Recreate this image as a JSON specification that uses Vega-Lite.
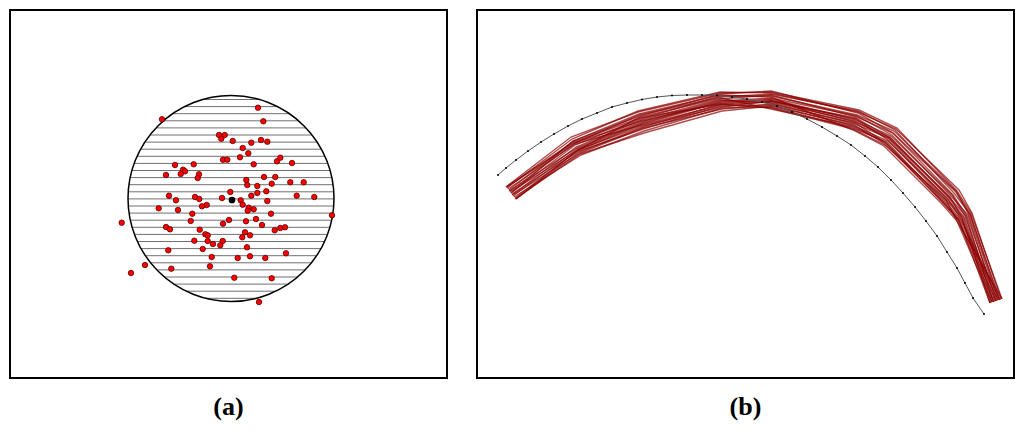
{
"$schema": "https://vega.github.io/schema/vega-lite/v6.json",
"background": "white",
"padding": {"left": 9, "top": 9, "right": 0, "bottom": 0},
"spacing": 28,
"config": {"view": {"stroke": "black", "strokeWidth": 2}},
"datasets": {
"hatch": [
{"y":98.5,"x1":201.6,"x2":258.4},{"y":105.6,"x1":183.5,"x2":276.5},{"y":112.7,"x1":171.5,"x2":288.5},{"y":119.8,"x1":162.4,"x2":297.6},{"y":126.9,"x1":155.0,"x2":305.0},{"y":134.0,"x1":148.9,"x2":311.1},{"y":141.1,"x1":143.8,"x2":316.2},{"y":148.2,"x1":139.6,"x2":320.4},{"y":155.3,"x1":136.0,"x2":324.0},{"y":162.4,"x1":133.2,"x2":326.8},{"y":169.5,"x1":130.9,"x2":329.1},{"y":176.6,"x1":129.1,"x2":330.9},{"y":183.7,"x1":127.9,"x2":332.1},{"y":190.8,"x1":127.2,"x2":332.8},{"y":197.9,"x1":127.0,"x2":333.0},{"y":205.0,"x1":127.3,"x2":332.7},{"y":212.1,"x1":128.0,"x2":332.0},{"y":219.2,"x1":129.3,"x2":330.7},{"y":226.3,"x1":131.1,"x2":328.9},{"y":233.4,"x1":133.5,"x2":326.5},{"y":240.5,"x1":136.4,"x2":323.6},{"y":247.6,"x1":140.0,"x2":320.0},{"y":254.7,"x1":144.3,"x2":315.7},{"y":261.8,"x1":149.5,"x2":310.5},{"y":268.9,"x1":155.8,"x2":304.2},{"y":276.0,"x1":163.3,"x2":296.7},{"y":283.1,"x1":172.7,"x2":287.3},{"y":290.2,"x1":185.1,"x2":274.9},{"y":297.3,"x1":204.5,"x2":255.5}
],
"circ": [{"x": 230, "y": 197.5}],
"ctr": [{"x": 231, "y": 199}],
"pts": [
{"x":257.0,"y":106.7},{"x":161.0,"y":118.3},{"x":262.3,"y":120.3},{"x":218.0,"y":134.0},{"x":223.7,"y":134.0},{"x":220.3,"y":137.7},{"x":231.7,"y":140.0},{"x":250.3,"y":141.7},{"x":260.0,"y":139.0},{"x":266.3,"y":140.7},{"x":241.7,"y":147.0},{"x":247.3,"y":152.3},{"x":222.0,"y":158.7},{"x":226.3,"y":158.7},{"x":239.0,"y":156.3},{"x":252.7,"y":163.3},{"x":276.0,"y":160.3},{"x":279.3,"y":156.7},{"x":291.0,"y":162.0},{"x":174.0,"y":164.0},{"x":192.7,"y":163.3},{"x":182.0,"y":168.7},{"x":184.0,"y":170.3},{"x":179.7,"y":173.0},{"x":165.0,"y":174.0},{"x":198.0,"y":173.3},{"x":196.7,"y":177.0},{"x":245.3,"y":179.0},{"x":263.0,"y":176.0},{"x":274.3,"y":176.0},{"x":246.3,"y":184.0},{"x":256.3,"y":185.0},{"x":270.7,"y":182.7},{"x":289.3,"y":181.3},{"x":302.7,"y":181.3},{"x":229.3,"y":191.0},{"x":265.3,"y":190.3},{"x":256.3,"y":192.0},{"x":250.3,"y":194.7},{"x":168.0,"y":194.7},{"x":194.0,"y":196.0},{"x":198.3,"y":198.0},{"x":221.0,"y":197.0},{"x":175.0,"y":199.3},{"x":239.7,"y":199.3},{"x":266.3,"y":200.0},{"x":295.7,"y":194.7},{"x":313.3,"y":196.0},{"x":157.7,"y":207.3},{"x":177.0,"y":209.0},{"x":205.7,"y":204.0},{"x":201.0,"y":205.3},{"x":241.7,"y":203.7},{"x":247.7,"y":206.7},{"x":252.7,"y":208.3},{"x":246.7,"y":209.7},{"x":191.3,"y":212.7},{"x":270.0,"y":212.7},{"x":331.0,"y":214.3},{"x":120.7,"y":221.7},{"x":189.7,"y":220.0},{"x":222.0,"y":222.7},{"x":228.0,"y":219.0},{"x":245.0,"y":220.3},{"x":255.0,"y":218.0},{"x":261.0,"y":224.0},{"x":165.0,"y":226.0},{"x":169.0,"y":228.3},{"x":198.7,"y":228.7},{"x":204.3,"y":233.3},{"x":206.7,"y":234.3},{"x":244.0,"y":231.3},{"x":249.0,"y":234.3},{"x":241.3,"y":236.3},{"x":273.7,"y":229.3},{"x":279.3,"y":227.0},{"x":284.0,"y":226.3},{"x":193.3,"y":239.7},{"x":206.7,"y":240.0},{"x":212.0,"y":243.0},{"x":221.7,"y":240.0},{"x":219.3,"y":244.3},{"x":167.3,"y":249.3},{"x":201.7,"y":248.0},{"x":246.0,"y":246.3},{"x":285.0,"y":252.3},{"x":210.7,"y":256.0},{"x":236.7,"y":257.0},{"x":249.0,"y":255.3},{"x":264.3,"y":257.0},{"x":144.0,"y":264.0},{"x":170.3,"y":267.7},{"x":209.0,"y":265.3},{"x":130.0,"y":272.0},{"x":233.3,"y":276.7},{"x":270.7,"y":277.3},{"x":258.0,"y":301.0}
],
"arc": [
{"x":497,"y":174},{"x":505,"y":167},{"x":515,"y":159},{"x":527,"y":150},{"x":540,"y":141},{"x":553,"y":133},{"x":567,"y":125},{"x":581,"y":118},{"x":596,"y":112},{"x":611,"y":106},{"x":626,"y":102},{"x":641,"y":98.5},{"x":656,"y":96},{"x":671,"y":94.5},{"x":686,"y":94},{"x":701,"y":94},{"x":716,"y":94.5},{"x":731,"y":96},{"x":746,"y":98},{"x":761,"y":101},{"x":776,"y":105},{"x":791,"y":111},{"x":806,"y":118},{"x":821,"y":126},{"x":836,"y":135},{"x":850,"y":144},{"x":864,"y":155},{"x":877,"y":166},{"x":890,"y":179},{"x":902,"y":192},{"x":914,"y":206},{"x":925,"y":220},{"x":936,"y":235},{"x":946,"y":251},{"x":956,"y":267},{"x":964,"y":282},{"x":972,"y":297},{"x":983,"y":313}
],
"traj": [
{"t":1,"x":505,"y":186},{"t":1,"x":570,"y":136},{"t":1,"x":637,"y":111},{"t":1,"x":719,"y":92},{"t":1,"x":770,"y":91},{"t":1,"x":858,"y":109},{"t":1,"x":896,"y":127},{"t":1,"x":956,"y":190},{"t":1,"x":970,"y":212},{"t":1,"x":1001,"y":298},
{"t":2,"x":506,"y":187},{"t":2,"x":571,"y":138},{"t":2,"x":637,"y":110},{"t":2,"x":719,"y":91},{"t":2,"x":770,"y":92},{"t":2,"x":857,"y":111},{"t":2,"x":895,"y":128},{"t":2,"x":958,"y":189},{"t":2,"x":971,"y":212},{"t":2,"x":1000,"y":298},
{"t":3,"x":508,"y":189},{"t":3,"x":572,"y":140},{"t":3,"x":639,"y":115},{"t":3,"x":719,"y":93},{"t":3,"x":770,"y":90},{"t":3,"x":857,"y":112},{"t":3,"x":892,"y":132},{"t":3,"x":955,"y":191},{"t":3,"x":969,"y":213},{"t":3,"x":999,"y":299},
{"t":4,"x":509,"y":190},{"t":4,"x":574,"y":142},{"t":4,"x":638,"y":114},{"t":4,"x":720,"y":96},{"t":4,"x":770,"y":93},{"t":4,"x":857,"y":110},{"t":4,"x":894,"y":129},{"t":4,"x":953,"y":192},{"t":4,"x":969,"y":213},{"t":4,"x":998,"y":299},
{"t":5,"x":510,"y":192},{"t":5,"x":574,"y":144},{"t":5,"x":639,"y":118},{"t":5,"x":719,"y":95},{"t":5,"x":770,"y":95},{"t":5,"x":856,"y":114},{"t":5,"x":893,"y":130},{"t":5,"x":955,"y":190},{"t":5,"x":968,"y":214},{"t":5,"x":997,"y":299},
{"t":6,"x":511,"y":194},{"t":6,"x":575,"y":146},{"t":6,"x":640,"y":119},{"t":6,"x":720,"y":98},{"t":6,"x":770,"y":94},{"t":6,"x":856,"y":116},{"t":6,"x":892,"y":132},{"t":6,"x":952,"y":194},{"t":6,"x":966,"y":215},{"t":6,"x":996,"y":300},
{"t":7,"x":512,"y":195},{"t":7,"x":576,"y":148},{"t":7,"x":641,"y":122},{"t":7,"x":720,"y":100},{"t":7,"x":770,"y":97},{"t":7,"x":856,"y":115},{"t":7,"x":891,"y":134},{"t":7,"x":950,"y":195},{"t":7,"x":967,"y":214},{"t":7,"x":995,"y":300},
{"t":8,"x":514,"y":197},{"t":8,"x":577,"y":149},{"t":8,"x":641,"y":123},{"t":8,"x":720,"y":101},{"t":8,"x":770,"y":98},{"t":8,"x":855,"y":119},{"t":8,"x":890,"y":135},{"t":8,"x":951,"y":194},{"t":8,"x":964,"y":215},{"t":8,"x":994,"y":300},
{"t":9,"x":515,"y":198},{"t":9,"x":578,"y":151},{"t":9,"x":642,"y":126},{"t":9,"x":720,"y":103},{"t":9,"x":770,"y":100},{"t":9,"x":855,"y":117},{"t":9,"x":889,"y":137},{"t":9,"x":948,"y":197},{"t":9,"x":963,"y":216},{"t":9,"x":993,"y":301},
{"t":10,"x":506,"y":186},{"t":10,"x":573,"y":142},{"t":10,"x":640,"y":120},{"t":10,"x":720,"y":102},{"t":10,"x":770,"y":99},{"t":10,"x":854,"y":121},{"t":10,"x":889,"y":136},{"t":10,"x":948,"y":196},{"t":10,"x":965,"y":215},{"t":10,"x":992,"y":301},
{"t":11,"x":507,"y":188},{"t":11,"x":574,"y":143},{"t":11,"x":641,"y":124},{"t":11,"x":720,"y":104},{"t":11,"x":770,"y":101},{"t":11,"x":854,"y":120},{"t":11,"x":888,"y":138},{"t":11,"x":946,"y":198},{"t":11,"x":962,"y":216},{"t":11,"x":991,"y":301},
{"t":12,"x":508,"y":190},{"t":12,"x":576,"y":147},{"t":12,"x":640,"y":121},{"t":12,"x":720,"y":99},{"t":12,"x":770,"y":102},{"t":12,"x":854,"y":123},{"t":12,"x":888,"y":137},{"t":12,"x":949,"y":196},{"t":12,"x":961,"y":217},{"t":12,"x":990,"y":302},
{"t":13,"x":509,"y":191},{"t":13,"x":577,"y":149},{"t":13,"x":641,"y":125},{"t":13,"x":721,"y":106},{"t":13,"x":770,"y":100},{"t":13,"x":855,"y":118},{"t":13,"x":887,"y":139},{"t":13,"x":945,"y":199},{"t":13,"x":961,"y":217},{"t":13,"x":989,"y":302},
{"t":14,"x":511,"y":193},{"t":14,"x":578,"y":150},{"t":14,"x":642,"y":128},{"t":14,"x":720,"y":105},{"t":14,"x":770,"y":104},{"t":14,"x":853,"y":125},{"t":14,"x":887,"y":140},{"t":14,"x":947,"y":198},{"t":14,"x":960,"y":218},{"t":14,"x":999,"y":299},
{"t":15,"x":512,"y":194},{"t":15,"x":579,"y":152},{"t":15,"x":642,"y":127},{"t":15,"x":721,"y":108},{"t":15,"x":770,"y":103},{"t":15,"x":854,"y":122},{"t":15,"x":885,"y":142},{"t":15,"x":944,"y":200},{"t":15,"x":959,"y":218},{"t":15,"x":997,"y":299},
{"t":16,"x":513,"y":196},{"t":16,"x":580,"y":154},{"t":16,"x":643,"y":130},{"t":16,"x":721,"y":107},{"t":16,"x":770,"y":106},{"t":16,"x":852,"y":127},{"t":16,"x":886,"y":141},{"t":16,"x":943,"y":201},{"t":16,"x":958,"y":219},{"t":16,"x":995,"y":300},
{"t":17,"x":514,"y":198},{"t":17,"x":579,"y":153},{"t":17,"x":643,"y":132},{"t":17,"x":721,"y":110},{"t":17,"x":770,"y":105},{"t":17,"x":853,"y":124},{"t":17,"x":884,"y":143},{"t":17,"x":942,"y":201},{"t":17,"x":957,"y":219},{"t":17,"x":993,"y":301},
{"t":18,"x":505,"y":186},{"t":18,"x":573,"y":141},{"t":18,"x":639,"y":117},{"t":18,"x":720,"y":103},{"t":18,"x":770,"y":107},{"t":18,"x":852,"y":128},{"t":18,"x":884,"y":144},{"t":18,"x":945,"y":199},{"t":18,"x":956,"y":220},{"t":18,"x":991,"y":301},
{"t":19,"x":515,"y":198},{"t":19,"x":577,"y":149},{"t":19,"x":639,"y":116},{"t":19,"x":720,"y":97},{"t":19,"x":770,"y":108},{"t":19,"x":853,"y":126},{"t":19,"x":885,"y":142},{"t":19,"x":942,"y":202},{"t":19,"x":958,"y":219},{"t":19,"x":989,"y":302},
{"t":20,"x":510,"y":192},{"t":20,"x":572,"y":140},{"t":20,"x":638,"y":113},{"t":20,"x":719,"y":94},{"t":20,"x":770,"y":96},{"t":20,"x":852,"y":129},{"t":20,"x":883,"y":145},{"t":20,"x":941,"y":203},{"t":20,"x":956,"y":220},{"t":20,"x":1001,"y":298}
]
},
"hconcat": [
{
"width": 437,
"height": 368,
"title": {"text": "(a)", "orient": "bottom", "font": "Liberation Serif", "fontSize": 26, "fontWeight": "bold", "color": "black", "offset": 16},
"layer": [
{"data": {"name": "hatch"}, "mark": {"type": "rule", "stroke": "#707070", "strokeWidth": 1},
 "encoding": {
  "x": {"field": "x1", "type": "quantitative", "scale": {"domain": [9, 446], "nice": false, "zero": false}, "axis": null},
  "x2": {"field": "x2"},
  "y": {"field": "y", "type": "quantitative", "scale": {"domain": [9, 377], "nice": false, "zero": false, "reverse": true}, "axis": null}
 }},
{"data": {"name": "circ"}, "mark": {"type": "point", "shape": "circle", "filled": false, "stroke": "black", "strokeWidth": 1.5, "opacity": 1, "size": 42436},
 "encoding": {
  "x": {"field": "x", "type": "quantitative", "axis": null},
  "y": {"field": "y", "type": "quantitative", "axis": null}
 }},
{"data": {"name": "pts"}, "mark": {"type": "point", "shape": "circle", "filled": true, "fill": "#ff0000", "stroke": "#5a0000", "strokeWidth": 0.8, "opacity": 1, "size": 30},
 "encoding": {
  "x": {"field": "x", "type": "quantitative", "axis": null},
  "y": {"field": "y", "type": "quantitative", "axis": null}
 }},
{"data": {"name": "ctr"}, "mark": {"type": "point", "shape": "circle", "filled": true, "fill": "black", "stroke": "black", "opacity": 1, "size": 22},
 "encoding": {
  "x": {"field": "x", "type": "quantitative", "axis": null},
  "y": {"field": "y", "type": "quantitative", "axis": null}
 }}
]
},
{
"width": 537,
"height": 368,
"title": {"text": "(b)", "orient": "bottom", "font": "Liberation Serif", "fontSize": 26, "fontWeight": "bold", "color": "black", "offset": 16},
"layer": [
{"data": {"name": "traj"}, "mark": {"type": "line", "stroke": "#8b0000", "strokeWidth": 1.4, "opacity": 0.7},
 "encoding": {
  "x": {"field": "x", "type": "quantitative", "scale": {"domain": [476, 1013], "nice": false, "zero": false}, "axis": null},
  "y": {"field": "y", "type": "quantitative", "scale": {"domain": [9, 377], "nice": false, "zero": false, "reverse": true}, "axis": null},
  "detail": {"field": "t", "type": "nominal"}
 }},
{"data": {"name": "arc"}, "mark": {"type": "line", "stroke": "#555555", "strokeWidth": 1, "point": {"filled": true, "fill": "black", "size": 4}},
 "encoding": {
  "x": {"field": "x", "type": "quantitative", "axis": null},
  "y": {"field": "y", "type": "quantitative", "axis": null}
 }}
]
}
]
}
